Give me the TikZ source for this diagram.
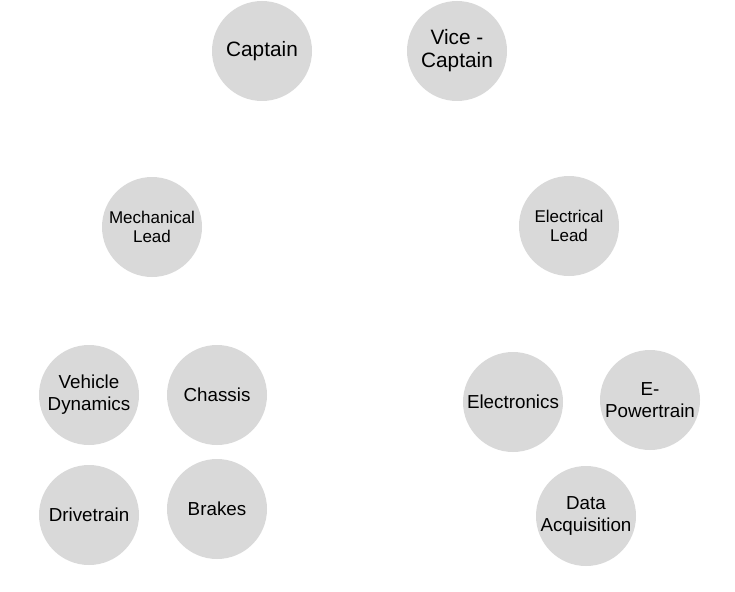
\documentclass[tikz,border=0pt]{standalone}
\usepackage{fontspec}
\setmainfont{Liberation Sans}
\definecolor{softgrey}{RGB}{217,217,217}
\usepackage{tikz}
\usetikzlibrary{shapes,positioning}

\begin{document}
\begin{tikzpicture}[x=1pt, y=-1pt,
    member/.style={circle, fill=softgrey, minimum size=100pt, inner sep=0pt, align=center, font=\fontsize{18.8}{22}\selectfont},
    lead/.style={member, font=\fontsize{17}{19}\selectfont},
    chief/.style={member, font=\fontsize{20.8}{23}\selectfont}]
    \useasboundingbox (0,0) rectangle (735,591);
    % top
    \node[chief] (captain) at (262,51) {Captain};
    \node[chief] (vicecaptain) at (457,51) {Vice -\\Captain};
    % leads
    \node[lead] (mechlead) at (152,227) {Mechanical\\Lead};
    \node[lead] (eleclead) at (569,226) {Electrical\\Lead};
    % mechanical subteams
    \node[member] (vehdyn) at (89,395) {Vehicle\\Dynamics};
    \node[member] (chassis) at (217,395) {Chassis};
    \node[member] (drivetrain) at (89,515) {Drivetrain};
    \node[member] (brakes) at (217,509) {Brakes};
    % electrical subteams
    \node[member] (electronics) at (513,402) {Electronics};
    \node[member] (epowertrain) at (650,400) {E-\\Powertrain};
    \node[member] (daq) at (586,516) {Data\\Acquisition};
\end{tikzpicture}
\end{document}
